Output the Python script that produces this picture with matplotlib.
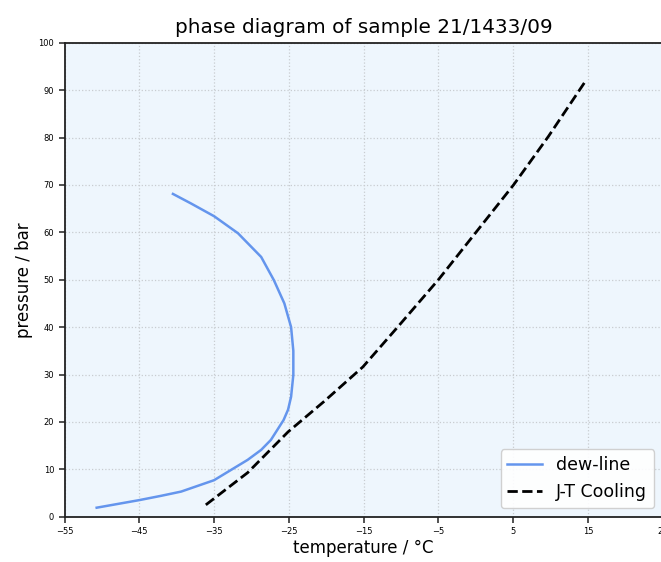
import matplotlib
matplotlib.use("Agg")
import matplotlib.pyplot as plt

# dew-line (temperature °C, pressure bar)
dew_temp = [-50.7, -45.0, -42.1, -39.4, -35.0, -30.5, -28.7, -27.4, -25.7, -25.1, -24.7, -24.4, -24.4,
            -24.7, -25.6, -27.0, -28.7, -31.8, -35.0, -38.1, -40.5]
dew_pres = [1.9, 3.5, 4.4, 5.3, 7.7, 12.0, 14.1, 16.2, 20.4, 22.6, 25.3, 29.9, 35.0,
            40.0, 45.0, 49.9, 54.8, 59.8, 63.4, 66.1, 68.1]

# J-T cooling line
jt_temp = [-36.1, -30.5, -25.1, -20.3, -15.1, -10.4, -5.0, 5.05, 9.7, 14.8]
jt_pres = [2.5, 9.3, 17.9, 24.3, 31.6, 40.1, 50.0, 70.0, 80.2, 92.2]

xticks = [-55, -45, -35, -25, -15, -5, 5, 15, 25]
yticks = [0, 10, 20, 30, 40, 50, 60, 70, 80, 90, 100]

fig = plt.figure(figsize=(6.61, 5.62), dpi=100)
ax = fig.add_axes([0.0976, 0.0806, 0.905, 0.8434])
ax.set_facecolor("#eef6fd")

ax.plot(dew_temp, dew_pres, color="#6495ed", lw=1.8, label="dew-line",
        solid_joinstyle="round")
ax.plot(jt_temp, jt_pres, color="black", lw=2, ls="--", label="J-T Cooling")

ax.set_xlim(-55, 25)
ax.set_ylim(0, 100)
ax.set_xticks(xticks)
ax.set_yticks(yticks)
ax.tick_params(labelsize=6, length=4, width=1.2, color="#333333")
ax.grid(True, color="#c8ccd0", ls=":", lw=0.9)
for s in ax.spines.values():
    s.set_linewidth(1.3)
    s.set_color("#222222")

ax.set_xlabel("temperature / °C", fontsize=12, labelpad=2)
ax.set_ylabel("pressure / bar", fontsize=12)
ax.set_title("phase diagram of sample 21/1433/09", fontsize=14.4, pad=7)
ax.legend(loc="lower right", fontsize=12.5, framealpha=0.9)

fig.savefig("out.png", dpi=100)
